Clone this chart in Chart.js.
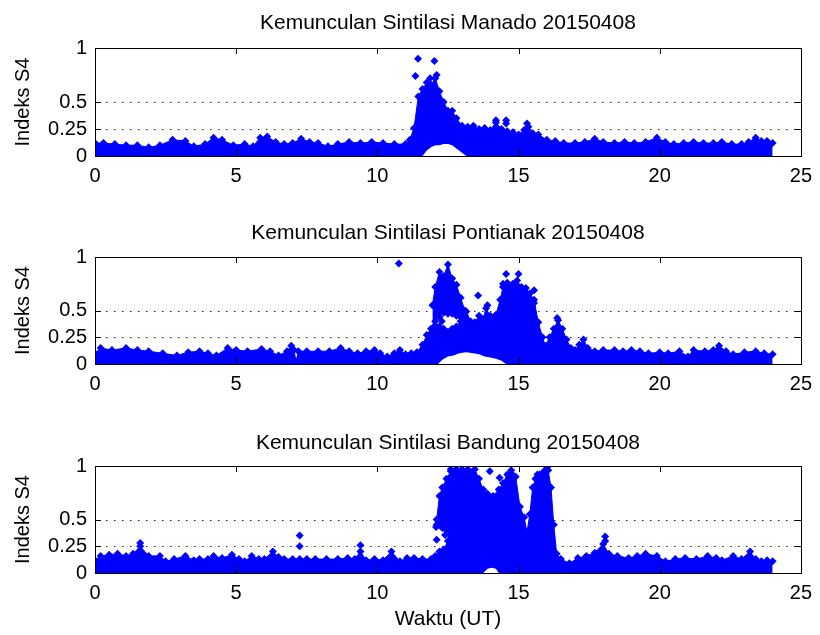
<!DOCTYPE html>
<html>
<head>
<meta charset="utf-8">
<script src="https://cdn.jsdelivr.net/npm/chart.js@4/dist/chart.umd.min.js"></script>
<style>
  body { margin: 0; background: #fff; }
  #wrap { position: relative; width: 820px; height: 635px; }
  canvas { position: absolute; left: 0; }
</style>
</head>
<body>
<div id="wrap">
  <canvas id="manado" width="820" height="205" style="top:0px"></canvas>
  <canvas id="pontianak" width="820" height="205" style="top:210px"></canvas>
  <canvas id="bandung" width="820" height="215" style="top:420px"></canvas>
</div>
<script>
// ---- axes ----
const xTicks = [0, 5, 10, 15, 20, 25];
const yTicks = [0, 0.25, 0.5, 1];
const gridLevels = [0.25, 0.5];

// ---- Manado: upper edge of the S4 point cloud, bottom edge where it lifts off zero, lone points ----
const manadoTime = [0, 0.3, 0.7, 1.1, 1.5, 1.9, 2.3, 2.75, 3.2, 3.5, 3.9, 4.2, 4.5, 4.9, 5.3, 5.6, 5.85, 6.1, 6.4, 6.7, 7.0, 7.3, 7.6, 7.9, 8.25, 8.6, 9.0, 9.4, 9.8, 10.2, 10.6, 11.0, 11.15, 11.3, 11.45, 11.6, 11.75, 11.9, 12.05, 12.2, 12.35, 12.5, 12.65, 12.8, 13.0, 13.2, 13.4, 13.6, 13.8, 14.0, 14.2, 14.4, 14.6, 14.8, 15.0, 15.2, 15.35, 15.5, 15.7, 16.0, 16.3, 16.6, 17.0, 17.35, 17.7, 18.0, 18.4, 18.75, 19.1, 19.5, 19.9, 20.2, 20.5, 20.85, 21.2, 21.55, 21.9, 22.2, 22.55, 22.9, 23.15, 23.4, 23.6, 23.8, 24.0];
const manadoTop = [0.12, 0.12, 0.11, 0.10, 0.10, 0.08, 0.10, 0.15, 0.14, 0.09, 0.11, 0.17, 0.15, 0.10, 0.11, 0.09, 0.17, 0.18, 0.13, 0.11, 0.12, 0.16, 0.13, 0.12, 0.09, 0.11, 0.13, 0.12, 0.13, 0.12, 0.11, 0.11, 0.15, 0.26, 0.55, 0.62, 0.68, 0.66, 0.72, 0.60, 0.50, 0.42, 0.42, 0.35, 0.28, 0.27, 0.28, 0.25, 0.26, 0.24, 0.31, 0.25, 0.23, 0.22, 0.20, 0.24, 0.27, 0.21, 0.20, 0.15, 0.14, 0.12, 0.12, 0.13, 0.16, 0.13, 0.12, 0.13, 0.12, 0.13, 0.17, 0.13, 0.11, 0.12, 0.13, 0.12, 0.12, 0.13, 0.11, 0.11, 0.13, 0.17, 0.14, 0.14, 0.12];
const manadoBaseTime = [0, 11.6, 11.75, 11.9, 12.05, 12.2, 12.35, 12.5, 12.65, 12.8, 13.0, 13.15, 24.0];
const manadoBase = [0, 0, 0.05, 0.08, 0.10, 0.10, 0.11, 0.11, 0.10, 0.07, 0.03, 0, 0];
const manadoDotX = [0, 0, 11.44, 12.02, 11.35, 11.87, 12.1, 14.2, 14.56, 14.56, 15.3];
const manadoDotY = [0.06, 0.03, 0.90, 0.88, 0.74, 0.72, 0.75, 0.33, 0.33, 0.30, 0.30];

// ---- Pontianak ----
const pontianakTime = [0, 0.2, 0.6, 1.1, 1.5, 1.9, 2.4, 2.9, 3.3, 3.7, 4.0, 4.3, 4.7, 5.0, 5.4, 5.9, 6.2, 6.5, 6.8, 6.95, 7.05, 7.12, 7.2, 7.5, 7.9, 8.3, 8.7, 9.0, 9.3, 9.6, 9.9, 10.1, 10.35, 10.6, 10.8, 11.0, 11.2, 11.4, 11.6, 11.75, 11.9, 12.05, 12.2, 12.35, 12.5, 12.65, 12.8, 12.95, 13.05, 13.15, 13.3, 13.45, 13.6, 13.75, 13.85, 14.0, 14.2, 14.35, 14.45, 14.6, 14.8, 14.95, 15.1, 15.26, 15.4, 15.55, 15.7, 15.85, 15.95, 16.1, 16.25, 16.4, 16.55, 16.7, 16.85, 17.0, 17.15, 17.3, 17.45, 17.7, 18.0, 18.4, 18.7, 19.0, 19.3, 19.6, 20.0, 20.3, 20.7, 21.0, 21.2, 21.6, 21.9, 22.1, 22.35, 22.6, 23.0, 23.4, 23.7, 24.0];
const pontianakTop = [0.10, 0.15, 0.13, 0.15, 0.13, 0.12, 0.10, 0.08, 0.11, 0.12, 0.10, 0.08, 0.15, 0.13, 0.12, 0.14, 0.12, 0.08, 0.12, 0.17, 0.13, 0.02, 0.12, 0.12, 0.12, 0.12, 0.15, 0.12, 0.10, 0.12, 0.13, 0.10, 0.07, 0.10, 0.13, 0.09, 0.10, 0.11, 0.18, 0.27, 0.33, 0.36, 0.35, 0.33, 0.30, 0.33, 0.35, 0.40, 0.45, 0.49, 0.40, 0.39, 0.45, 0.42, 0.52, 0.45, 0.46, 0.60, 0.72, 0.76, 0.75, 0.78, 0.72, 0.71, 0.66, 0.60, 0.39, 0.25, 0.17, 0.25, 0.33, 0.41, 0.33, 0.23, 0.15, 0.13, 0.18, 0.23, 0.15, 0.12, 0.13, 0.13, 0.12, 0.13, 0.12, 0.10, 0.11, 0.10, 0.12, 0.07, 0.13, 0.12, 0.13, 0.17, 0.12, 0.09, 0.11, 0.12, 0.10, 0.09];
const pontianakBaseTime = [0, 12.15, 12.3, 12.5, 12.7, 12.9, 13.15, 13.4, 13.6, 13.8, 14.0, 14.2, 14.4, 14.55, 24.0];
const pontianakBase = [0, 0, 0.04, 0.07, 0.08, 0.10, 0.11, 0.10, 0.09, 0.07, 0.06, 0.05, 0.03, 0, 0];
const pontianakLobeTime = [11.95, 12.05, 12.2, 12.35, 12.5, 12.65, 12.8, 12.95, 13.1];
const pontianakLobeTop = [0.55, 0.72, 0.86, 0.82, 0.93, 0.80, 0.74, 0.62, 0.50];
const pontianakLobeBase = [0.32, 0.40, 0.44, 0.48, 0.47, 0.47, 0.45, 0.44, 0.45];
const pontianakDotX = [0, 0, 10.76, 12.28, 13.57, 13.9, 14.56, 15.0, 14.45, 15.55, 15.55, 16.37];
const pontianakDotY = [0.06, 0.02, 0.94, 0.40, 0.64, 0.55, 0.84, 0.84, 0.75, 0.69, 0.57, 0.43];

// ---- Bandung ----
const bandungTime = [0, 0.2, 0.5, 0.8, 1.1, 1.35, 1.6, 1.9, 2.3, 2.5, 2.8, 3.2, 3.5, 3.7, 4.0, 4.2, 4.5, 4.85, 5.1, 5.3, 5.55, 5.8, 6.0, 6.3, 6.5, 6.7, 7.0, 7.25, 7.5, 7.8, 8.2, 8.6, 8.95, 9.2, 9.4, 9.6, 9.9, 10.2, 10.5, 10.8, 11.05, 11.3, 11.6, 11.9, 12.05, 12.2, 12.35, 12.5, 12.6, 12.8, 13.0, 13.2, 13.45, 13.6, 13.75, 13.9, 14.1, 14.3, 14.45, 14.6, 14.75, 14.9, 15.05, 15.2, 15.3, 15.4, 15.5, 15.6, 15.75, 15.9, 16.05, 16.15, 16.25, 16.35, 16.5, 16.8, 17.1, 17.4, 17.7, 18.0, 18.2, 18.5, 18.9, 19.2, 19.5, 19.9, 20.2, 20.55, 20.9, 21.3, 21.7, 22.0, 22.2, 22.6, 22.9, 23.2, 23.4, 23.6, 23.8, 24.0];
const bandungTop = [0.12, 0.16, 0.17, 0.18, 0.16, 0.18, 0.25, 0.16, 0.16, 0.11, 0.13, 0.16, 0.12, 0.13, 0.13, 0.16, 0.14, 0.17, 0.13, 0.11, 0.16, 0.13, 0.13, 0.20, 0.15, 0.13, 0.13, 0.13, 0.13, 0.13, 0.13, 0.13, 0.14, 0.13, 0.20, 0.12, 0.13, 0.12, 0.20, 0.11, 0.14, 0.14, 0.13, 0.13, 0.16, 0.20, 0.22, 0.30, 0.97, 0.97, 0.97, 0.97, 0.97, 0.88, 0.78, 0.74, 0.72, 0.78, 0.84, 0.92, 0.93, 0.90, 0.62, 0.52, 0.38, 0.55, 0.80, 0.88, 0.92, 0.95, 0.96, 0.80, 0.45, 0.18, 0.13, 0.09, 0.14, 0.16, 0.19, 0.27, 0.18, 0.16, 0.14, 0.16, 0.18, 0.16, 0.11, 0.13, 0.14, 0.13, 0.16, 0.14, 0.12, 0.16, 0.13, 0.20, 0.13, 0.11, 0.12, 0.11];
const bandungBaseTime = [0, 13.75, 13.9, 14.05, 14.2, 14.3, 24.0];
const bandungBase = [0, 0, 0.04, 0.05, 0.04, 0, 0];
const bandungColTime = [12.1, 12.2, 12.3, 12.45, 12.6];
const bandungColTop = [0.50, 0.72, 0.80, 0.88, 0.95];
const bandungColBase = [0.45, 0.45, 0.42, 0.40, 0.35];
const bandungDotX = [0, 0, 1.6, 7.25, 7.25, 9.4, 12.08, 12.1, 12.4, 13.98, 14.33, 14.74, 15.67, 16.02, 18.07, 18.07];
const bandungDotY = [0.06, 0.02, 0.28, 0.35, 0.25, 0.26, 0.43, 0.31, 0.355, 0.95, 0.89, 0.96, 0.92, 0.99, 0.34, 0.30];

const FONT = "'Liberation Sans', Arial, Helvetica, sans-serif";
const BLUE = 'rgb(0, 0, 255)';
const MARK = 4;

function pts(xs, ys) {
    return xs.map((x, i) => ({ x: x, y: ys[i] }));
}

// dotted grid (MATLAB ':' style), drawn under the points
const dottedGrid = {
    id: 'dottedGrid',
    beforeDatasetsDraw(chart) {
        const { ctx, chartArea: a, scales } = chart;
        ctx.save();
        ctx.strokeStyle = '#222';
        ctx.lineWidth = 1;
        ctx.setLineDash([1.5, 6.5]);
        ctx.beginPath();
        gridLevels.forEach(v => {
            const py = Math.round(scales.y.getPixelForValue(v)) + 0.5;
            ctx.moveTo(a.left + 3, py); ctx.lineTo(a.right, py);
        });
        ctx.stroke();
        ctx.restore();
    }
};

// MATLAB style box with inward ticks, drawn over the data
const matlabBox = {
    id: 'matlabBox',
    afterDatasetsDraw(chart) {
        const { ctx, chartArea: a, scales } = chart;
        ctx.save();
        ctx.strokeStyle = '#000';
        ctx.lineWidth = 1;
        ctx.beginPath();
        xTicks.forEach(v => {
            const px = Math.round(scales.x.getPixelForValue(v)) + 0.5;
            ctx.moveTo(px, a.bottom); ctx.lineTo(px, a.bottom - 6);
            ctx.moveTo(px, a.top); ctx.lineTo(px, a.top + 6);
        });
        yTicks.forEach(v => {
            const py = Math.round(scales.y.getPixelForValue(v)) + 0.5;
            ctx.moveTo(a.left, py); ctx.lineTo(a.left + 6, py);
            ctx.moveTo(a.right, py); ctx.lineTo(a.right - 6, py);
        });
        ctx.stroke();
        ctx.strokeRect(Math.round(a.left) + 0.5, Math.round(a.top) + 0.5,
            Math.round(a.right - a.left), Math.round(a.bottom - a.top));
        ctx.restore();
    }
};

function makeChart(id, title, bands, dotX, dotY, cfg) {
    const datasets = [];
    bands.forEach(b => {
        datasets.push({
            type: 'line',
            data: pts(b.baseTime, b.base),
            borderWidth: 1,
            borderColor: b.lowerDots ? BLUE : 'rgba(0,0,0,0)',
            pointRadius: b.lowerDots ? MARK : 0,
            pointStyle: 'rectRot',
            pointBackgroundColor: BLUE,
            pointBorderWidth: 0,
            fill: false
        });
        datasets.push({
            type: 'line',
            data: pts(b.time, b.top),
            borderWidth: 1,
            borderColor: BLUE,
            backgroundColor: BLUE,
            pointRadius: MARK,
            pointStyle: 'rectRot',
            pointBackgroundColor: BLUE,
            pointBorderWidth: 0,
            fill: '-1'
        });
    });
    datasets.push({
        type: 'scatter',
        data: pts(dotX, dotY),
        pointRadius: MARK,
        pointStyle: 'rectRot',
        backgroundColor: BLUE,
        pointBorderWidth: 0
    });

    return new Chart(document.getElementById(id), {
        type: 'scatter',
        data: { datasets },
        options: {
            responsive: false,
            animation: false,
            events: [],
            layout: { padding: { left: 0, right: 12, top: 0, bottom: 0 } },
            plugins: {
                legend: { display: false },
                tooltip: { enabled: false },
                title: {
                    display: true,
                    fullSize: false,
                    text: title,
                    color: '#000',
                    font: { family: FONT, size: 21, weight: 'normal', lineHeight: 1.2 },
                    padding: { top: cfg.titleTop, bottom: cfg.titleBottom }
                }
            },
            scales: {
                x: {
                    type: 'linear',
                    min: 0,
                    max: 25,
                    afterBuildTicks: s => { s.ticks = xTicks.map(v => ({ value: v })); },
                    afterFit: s => { s.height = cfg.xHeight; },
                    grid: { display: false, drawTicks: false },
                    border: { display: false },
                    ticks: { color: '#000', padding: 8, font: { family: FONT, size: 20 },
                             callback: v => String(v) },
                    title: {
                        display: !!cfg.xTitle,
                        text: cfg.xTitle || '',
                        color: '#000',
                        font: { family: FONT, size: 21 },
                        padding: { top: 0, bottom: 3 }
                    }
                },
                y: {
                    min: 0,
                    max: 1,
                    afterBuildTicks: s => { s.ticks = yTicks.map(v => ({ value: v })); },
                    afterFit: s => { s.width = 95; },
                    grid: { display: false, drawTicks: false },
                    border: { display: false },
                    ticks: { color: '#000', padding: 8, font: { family: FONT, size: 20 },
                             callback: v => String(v) },
                    title: {
                        display: true,
                        text: 'Indeks S4',
                        color: '#000',
                        font: { family: FONT, size: 20 },
                        padding: { top: 11, bottom: 0 }
                    }
                }
            }
        },
        plugins: [dottedGrid, matlabBox]
    });
}

makeChart('manado', 'Kemunculan Sintilasi Manado 20150408',
    [{ time: manadoTime, top: manadoTop, baseTime: manadoBaseTime, base: manadoBase }],
    manadoDotX, manadoDotY,
    { titleTop: 10.5, titleBottom: 12.3, xHeight: 49 });

makeChart('pontianak', 'Kemunculan Sintilasi Pontianak 20150408',
    [{ time: pontianakTime, top: pontianakTop, baseTime: pontianakBaseTime, base: pontianakBase },
     { time: pontianakLobeTime, top: pontianakLobeTop, baseTime: pontianakLobeTime, base: pontianakLobeBase, lowerDots: true }],
    pontianakDotX, pontianakDotY,
    { titleTop: 10.5, titleBottom: 11.3, xHeight: 51 });

makeChart('bandung', 'Kemunculan Sintilasi Bandung 20150408',
    [{ time: bandungTime, top: bandungTop, baseTime: bandungBaseTime, base: bandungBase },
     { time: bandungColTime, top: bandungColTop, baseTime: bandungColTime, base: bandungColBase, lowerDots: true }],
    bandungDotX, bandungDotY,
    { titleTop: 11, titleBottom: 9.8, xHeight: 62, xTitle: 'Waktu (UT)' });
</script>
</body>
</html>
